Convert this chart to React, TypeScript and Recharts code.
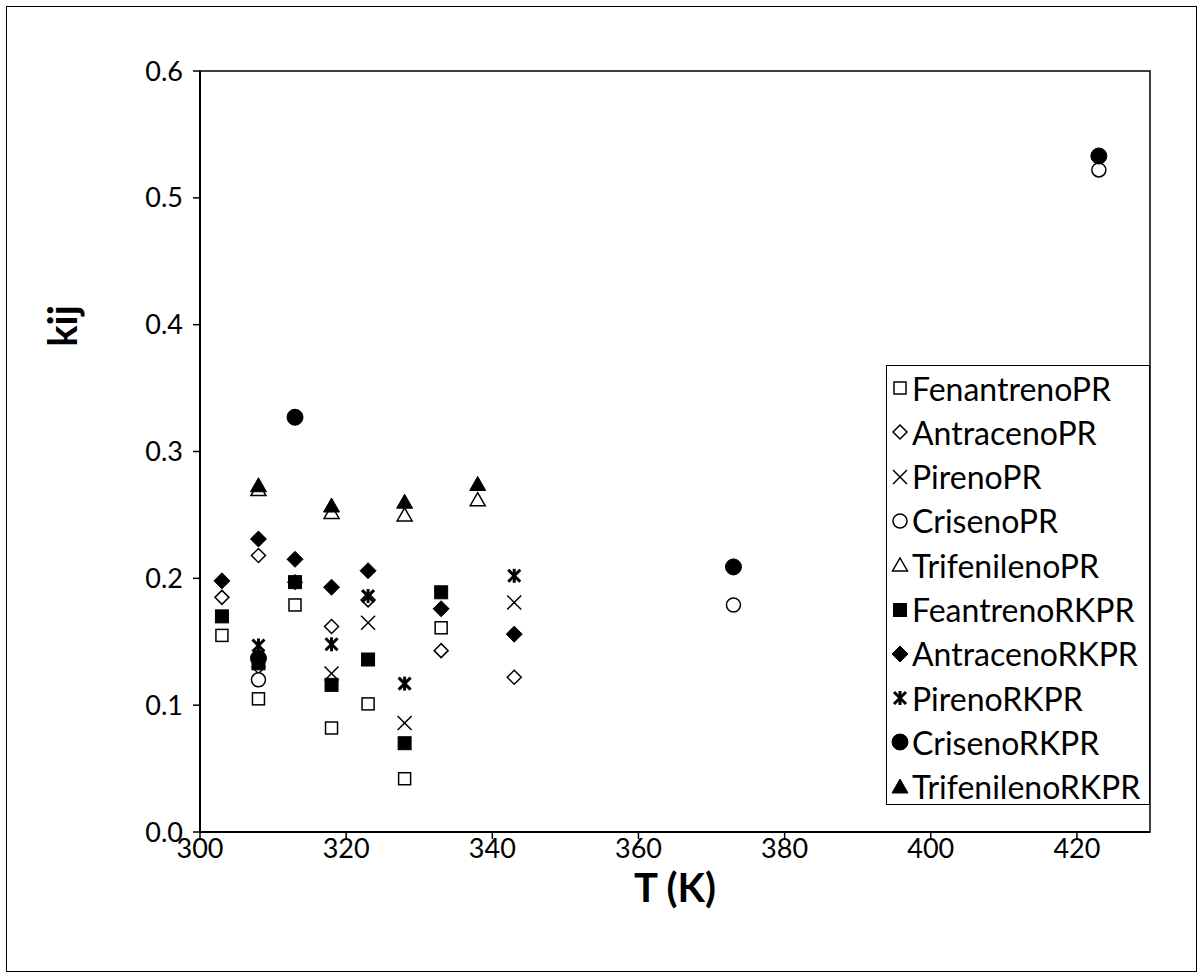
import React from "react";
import { ScatterChart, Scatter, XAxis, YAxis, ReferenceArea } from "recharts";

// temperatures (K) and kij values, one pair of arrays per series
const FEN_PR_T = [303, 308, 313, 318, 323, 328, 333];
const FEN_PR_K = [0.155, 0.105, 0.179, 0.082, 0.101, 0.042, 0.161];

const ANT_PR_T = [303, 308, 313, 318, 323, 333, 343];
const ANT_PR_K = [0.185, 0.218, 0.197, 0.162, 0.183, 0.143, 0.122];

const PIR_PR_T = [308, 318, 323, 328, 343];
const PIR_PR_K = [0.125, 0.125, 0.165, 0.086, 0.181];

const CRI_PR_T = [308, 373, 423];
const CRI_PR_K = [0.12, 0.179, 0.522];

const TRI_PR_T = [308, 318, 328, 338];
const TRI_PR_K = [0.27, 0.252, 0.25, 0.262];

const FEN_RK_T = [303, 308, 313, 318, 323, 328, 333];
const FEN_RK_K = [0.17, 0.133, 0.197, 0.116, 0.136, 0.07, 0.189];

const ANT_RK_T = [303, 308, 313, 318, 323, 333, 343];
const ANT_RK_K = [0.198, 0.231, 0.215, 0.193, 0.206, 0.176, 0.156];

const PIR_RK_T = [308, 318, 323, 328, 343];
const PIR_RK_K = [0.147, 0.148, 0.186, 0.117, 0.202];

const CRI_RK_T = [308, 313, 373, 423];
const CRI_RK_K = [0.137, 0.327, 0.209, 0.533];

const TRI_RK_T = [308, 318, 328, 338];
const TRI_RK_K = [0.273, 0.257, 0.26, 0.274];

const X_TICKS = [300, 320, 340, 360, 380, 400, 420];
const Y_TICKS = [0, 0.1, 0.2, 0.3, 0.4, 0.5, 0.6];

const FONT = "Lato, 'Open Sans', sans-serif";

const toPoints = (t: number[], k: number[]) => t.map((x, i) => ({ x, y: k[i] }));

const SERIES = [
  { name: "FenantrenoPR", kind: "sqOpen", data: toPoints(FEN_PR_T, FEN_PR_K) },
  { name: "AntracenoPR", kind: "diaOpen", data: toPoints(ANT_PR_T, ANT_PR_K) },
  { name: "PirenoPR", kind: "cross", data: toPoints(PIR_PR_T, PIR_PR_K) },
  { name: "CrisenoPR", kind: "circOpen", data: toPoints(CRI_PR_T, CRI_PR_K) },
  { name: "TrifenilenoPR", kind: "triOpen", data: toPoints(TRI_PR_T, TRI_PR_K) },
  { name: "FeantrenoRKPR", kind: "sqFill", data: toPoints(FEN_RK_T, FEN_RK_K) },
  { name: "AntracenoRKPR", kind: "diaFill", data: toPoints(ANT_RK_T, ANT_RK_K) },
  { name: "PirenoRKPR", kind: "star", data: toPoints(PIR_RK_T, PIR_RK_K) },
  { name: "CrisenoRKPR", kind: "circFill", data: toPoints(CRI_RK_T, CRI_RK_K) },
  { name: "TrifenilenoRKPR", kind: "triFill", data: toPoints(TRI_RK_T, TRI_RK_K) },
];

function Marker({ kind, cx, cy }: { kind: string; cx: number; cy: number }) {
  const open = { fill: "#fff", stroke: "#000", strokeWidth: 1.5 };
  const solid = { fill: "#000", stroke: "#000", strokeWidth: 1 };
  switch (kind) {
    case "sqOpen":
      return <rect x={cx - 6} y={cy - 6} width={12} height={12} {...open} />;
    case "diaOpen":
      return <polygon points={`${cx},${cy - 7} ${cx + 7},${cy} ${cx},${cy + 7} ${cx - 7},${cy}`} {...open} />;
    case "cross":
      return (
        <g stroke="#000" strokeWidth={1.5}>
          <line x1={cx - 7} y1={cy - 7} x2={cx + 7} y2={cy + 7} />
          <line x1={cx - 7} y1={cy + 7} x2={cx + 7} y2={cy - 7} />
        </g>
      );
    case "circOpen":
      return <circle cx={cx} cy={cy} r={7} {...open} />;
    case "triOpen":
      return <polygon points={`${cx},${cy - 7} ${cx + 7.5},${cy + 6} ${cx - 7.5},${cy + 6}`} {...open} />;
    case "sqFill":
      return <rect x={cx - 6.5} y={cy - 6.5} width={13} height={13} {...solid} />;
    case "diaFill":
      return <polygon points={`${cx},${cy - 8} ${cx + 8},${cy} ${cx},${cy + 8} ${cx - 8},${cy}`} {...solid} />;
    case "star":
      return (
        <g stroke="#000" strokeWidth={3}>
          <line x1={cx - 6} y1={cy - 6} x2={cx + 6} y2={cy + 6} />
          <line x1={cx - 6} y1={cy + 6} x2={cx + 6} y2={cy - 6} />
          <line x1={cx} y1={cy - 7} x2={cx} y2={cy + 7} />
        </g>
      );
    case "circFill":
      return <circle cx={cx} cy={cy} r={8} {...solid} />;
    case "triFill":
      return <polygon points={`${cx},${cy - 8} ${cx + 8},${cy + 6} ${cx - 8},${cy + 6}`} {...solid} />;
    default:
      return null;
  }
}

const YTitle = () => (
  <text
    x={62}
    y={326}
    transform="rotate(-90 62 326)"
    textAnchor="middle"
    dominantBaseline="central"
    style={{ fontSize: 40, fontWeight: 700, fill: "#000", fontFamily: FONT }}
  >
    kij
  </text>
);

function ChartLegend() {
  return (
    <div
      style={{
        position: "absolute",
        left: 886,
        top: 365,
        width: 264,
        height: 440,
        border: "1.5px solid #000",
        background: "#fff",
        fontFamily: FONT,
        fontSize: 32,
        color: "#000",
        boxSizing: "border-box",
      }}
    >
      {SERIES.map((s, i) => (
        <div
          key={s.name}
          style={{ position: "absolute", left: 0, top: 2 + i * 44.3, height: 40, display: "flex", alignItems: "center", whiteSpace: "nowrap" }}
        >
          <svg width={25} height={40} style={{ flex: "none" }}>
            <Marker kind={s.kind} cx={13} cy={20} />
          </svg>
          <span>{s.name}</span>
        </div>
      ))}
    </div>
  );
}

export default function App() {
  return (
    <div style={{ position: "absolute", left: 0, top: 0, width: 1203, height: 978, background: "#fff" }}>
      <div style={{ position: "absolute", left: 6, top: 6, width: 1189, height: 964, border: "1px solid #000" }} />
      <div style={{ position: "absolute", left: 0, top: 0 }}>
        <ScatterChart width={1203} height={978} margin={{ top: 71, right: 53, bottom: 116, left: 0 }}>
          <XAxis
            type="number"
            dataKey="x"
            domain={[300, 430]}
            ticks={X_TICKS}
            allowDataOverflow
            height={30}
            tickSize={7}
            tickMargin={0}
            tick={{ fontSize: 27, fill: "#000", fontFamily: FONT }}
            axisLine={{ stroke: "#000", strokeWidth: 2 }}
            tickLine={{ stroke: "#000", strokeWidth: 1.5 }}
            label={{
              value: "T (K)",
              position: "bottom",
              offset: 12,
              style: { fontSize: 40, fontWeight: 700, fill: "#000", fontFamily: FONT },
            }}
          />
          <YAxis
            type="number"
            dataKey="y"
            domain={[0, 0.6]}
            ticks={Y_TICKS}
            allowDataOverflow
            width={200}
            tickSize={7}
            tickMargin={10}
            tickFormatter={(v: number) => v.toFixed(1)}
            tick={{ fontSize: 27, fill: "#000", fontFamily: FONT }}
            axisLine={{ stroke: "#000", strokeWidth: 2 }}
            tickLine={{ stroke: "#000", strokeWidth: 1.5 }}
            label={<YTitle />}
          />
          <ReferenceArea x1={300} x2={430} y1={0} y2={0.6} fill="none" stroke="#000" strokeWidth={1.5} />
          {SERIES.map((s) => (
            <Scatter
              key={s.name}
              name={s.name}
              data={s.data}
              isAnimationActive={false}
              shape={(p: any) => <Marker kind={s.kind} cx={p.cx} cy={p.cy} />}
            />
          ))}
        </ScatterChart>
      </div>
      <ChartLegend />
    </div>
  );
}
